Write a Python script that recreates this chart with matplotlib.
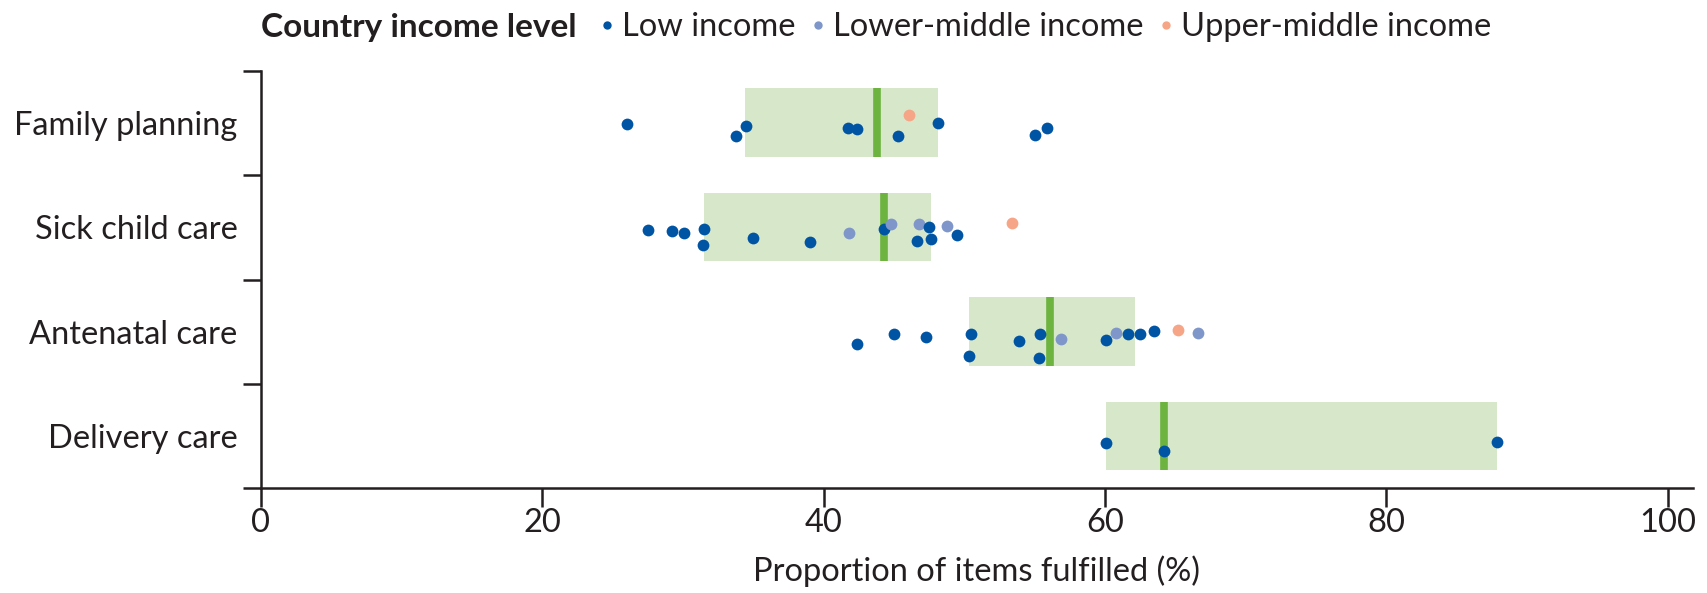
import matplotlib
matplotlib.use("Agg")
import matplotlib.pyplot as plt
from matplotlib.lines import Line2D

plt.rcParams['font.family'] = ['Lato', 'DejaVu Sans']

categories = ['Family planning', 'Sick child care', 'Antenatal care', 'Delivery care']

# box: lower, upper, median (%)
box_low = [34.4, 31.5, 50.3, 60.1]
box_high = [48.1, 47.6, 62.1, 87.9]
box_median = [43.8, 44.3, 56.1, 64.2]

# country points per category: value, vertical offset, income group
fp_vals = [26.0, 33.8, 34.5, 41.7, 42.4, 45.3, 46.1, 48.1, 55.05, 55.9]
fp_off = [0.01, 0.13, 0.03, 0.05, 0.06, 0.13, -0.08, 0.0, 0.12, 0.05]
fp_grp = ['L', 'L', 'L', 'L', 'L', 'L', 'U', 'L', 'L', 'L']

sc_vals = [27.5, 29.2, 30.1, 31.5, 31.4, 35.0, 39.05, 41.8, 44.3, 44.8, 46.8, 47.5, 46.6, 47.6, 48.8, 49.5, 53.4]
sc_off = [0.025, 0.04, 0.05, 0.015, 0.17, 0.10, 0.14, 0.05, 0.02, -0.03, -0.03, 0.0, 0.13, 0.11, -0.01, 0.07, -0.04]
sc_grp = ['L', 'L', 'L', 'L', 'L', 'L', 'L', 'M', 'L', 'M', 'M', 'L', 'L', 'L', 'M', 'L', 'U']

an_vals = [42.4, 45.0, 47.3, 50.5, 50.3, 53.9, 55.4, 55.3, 56.9, 60.1, 60.8, 61.6, 62.5, 63.5, 65.2, 66.6]
an_off = [0.12, 0.02, 0.05, 0.02, 0.23, 0.09, 0.02, 0.25, 0.07, 0.08, 0.01, 0.02, 0.02, -0.01, -0.02, 0.01]
an_grp = ['L', 'L', 'L', 'L', 'L', 'L', 'L', 'L', 'M', 'L', 'M', 'L', 'L', 'L', 'U', 'M']

dc_vals = [60.1, 64.2, 87.9]
dc_off = [0.07, 0.14, 0.06]
dc_grp = ['L', 'L', 'L']

colors = {'L': '#0054a4', 'M': '#7e96c9', 'U': '#f6a587'}
group_names = {'L': 'Low income', 'M': 'Lower-middle income', 'U': 'Upper-middle income'}

fig = plt.figure(figsize=(17.08, 5.93), dpi=100)
ax = fig.add_axes([261/1708, 1-488.3/593, (1693-261)/1708, 417.6/593])

all_vals = [fp_vals, sc_vals, an_vals, dc_vals]
all_off = [fp_off, sc_off, an_off, dc_off]
all_grp = [fp_grp, sc_grp, an_grp, dc_grp]

for i in range(len(categories)):
    ax.fill_between([box_low[i], box_high[i]], i - 0.33, i + 0.325,
                    color='#d7e8ca', lw=0, zorder=1)
    ax.plot([box_median[i], box_median[i]], [i - 0.33, i + 0.325],
            color='#6cb33f', lw=5.5, solid_capstyle='butt', zorder=2)
    for v, o, g in zip(all_vals[i], all_off[i], all_grp[i]):
        ax.scatter(v, i + o, s=72, color=colors[g], lw=0, zorder=3)

fs = 23.5
ax.set_xlim(0, 101.8)
ax.set_ylim(3.5, -0.5)
ax.set_xticks([0, 20, 40, 60, 80, 100])
ax.set_yticks([-0.5, 0.5, 1.5, 2.5, 3.5])
ax.set_yticklabels([])
ax.set_yticks(range(len(categories)), minor=True)
ax.set_yticklabels(categories, minor=True)
ax.tick_params(axis='y', which='major', length=13, width=1.8, color='#231f20')
ax.tick_params(axis='y', which='minor', length=0, pad=17, labelsize=fs, labelcolor='#231f20')
ax.tick_params(axis='x', length=13.5, width=1.8, pad=1, labelsize=fs, color='#231f20', labelcolor='#231f20')
for s in ['top', 'right']:
    ax.spines[s].set_visible(False)
for s in ['left', 'bottom']:
    ax.spines[s].set_linewidth(1.8)
    ax.spines[s].set_color('#231f20')
ax.set_xlabel('Proportion of items fulfilled (%)', fontsize=fs, color='#231f20', labelpad=12)

fig.text(261/1708, 1-27/593, 'Country income level', fontsize=24, fontweight='bold',
         color='#231f20', va='center', ha='left')
handles = [Line2D([], [], ls='none', marker='o', markersize=6, markeredgewidth=0,
                  color=colors[g]) for g in ['L', 'M', 'U']]
fig.legend(handles, [group_names[g] for g in ['L', 'M', 'U']], loc='center left',
           bbox_to_anchor=(599/1708, 1-27/593), ncol=3, frameon=False, fontsize=fs,
           handlelength=0.5, handletextpad=0.2, columnspacing=0.45, borderpad=0,
           borderaxespad=0, labelcolor='#231f20')

fig.savefig('out.png', dpi=100)
